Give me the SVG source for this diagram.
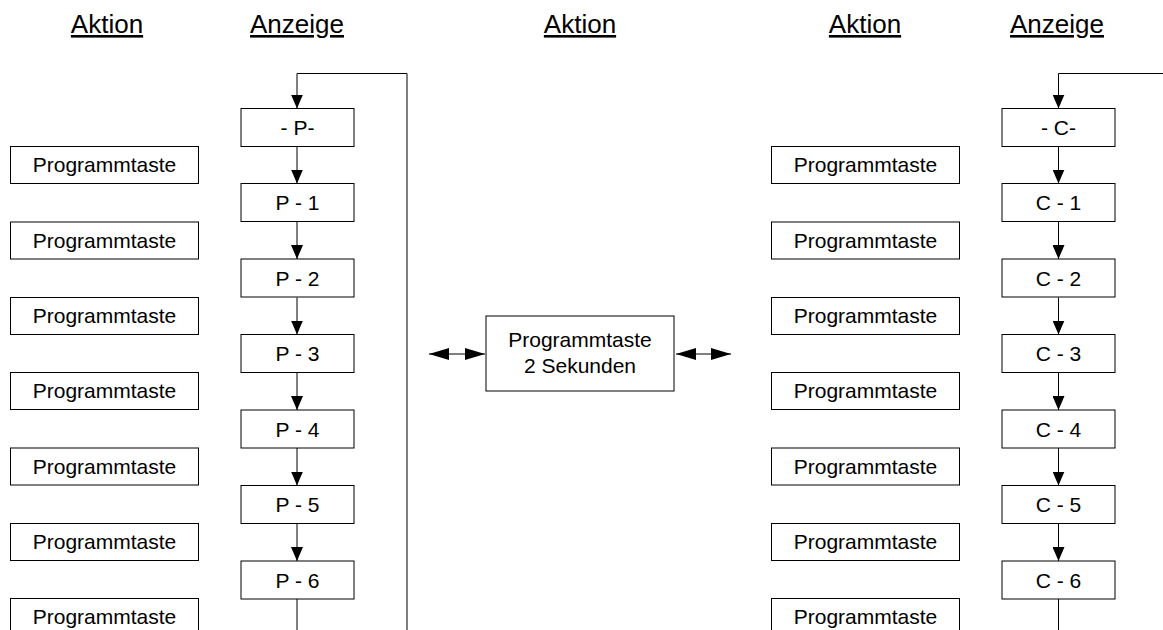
<svg xmlns="http://www.w3.org/2000/svg" width="1163" height="630" viewBox="0 0 1163 630">
<style>
.box{fill:#fff;stroke:#000;stroke-width:1}
.t{font-family:"Liberation Sans",Arial,sans-serif;font-size:21px;fill:#000;text-anchor:middle}
.h{font-family:"Liberation Sans",Arial,sans-serif;font-size:26px;fill:#000;text-anchor:middle;text-decoration:underline}
.ln{fill:none;stroke:#000;stroke-width:1}
</style>
<defs>
<marker id="ah" viewBox="0 0 14 12" refX="14" refY="6" markerWidth="14" markerHeight="12" markerUnits="userSpaceOnUse" orient="auto">
<path d="M0,0 L14,6 L0,12 Z" fill="#000"/>
</marker>
<marker id="dh" viewBox="0 0 20 12" refX="20" refY="6" markerWidth="20" markerHeight="12" markerUnits="userSpaceOnUse" orient="auto-start-reverse">
<path d="M0,0 L20,6 L0,12 Z" fill="#000"/>
</marker>
</defs>
<rect width="1163" height="630" fill="#fff"/>
<g id="headings">
<text class="h" x="107" y="33">Aktion</text>
<text class="h" x="297" y="33">Anzeige</text>
<text class="h" x="580" y="33">Aktion</text>
<text class="h" x="865" y="33">Aktion</text>
<text class="h" x="1057" y="33">Anzeige</text>
</g>
<g id="connectors">
<path class="ln" d="M407,630 V73.5 H297 V108.5" marker-end="url(#ah)"/>
<path class="ln" d="M297,146.5 V183.5" marker-end="url(#ah)"/>
<path class="ln" d="M297,222 V259" marker-end="url(#ah)"/>
<path class="ln" d="M297,297.5 V334.5" marker-end="url(#ah)"/>
<path class="ln" d="M297,372.5 V410" marker-end="url(#ah)"/>
<path class="ln" d="M297,448 V485.5" marker-end="url(#ah)"/>
<path class="ln" d="M297,523.5 V561" marker-end="url(#ah)"/>
<path class="ln" d="M297,599 V630"/>
<path class="ln" d="M1163,73.5 H1058.5 V108.5" marker-end="url(#ah)"/>
<path class="ln" d="M1058.5,146.5 V183.5" marker-end="url(#ah)"/>
<path class="ln" d="M1058.5,222 V259" marker-end="url(#ah)"/>
<path class="ln" d="M1058.5,297.5 V334.5" marker-end="url(#ah)"/>
<path class="ln" d="M1058.5,372.5 V410" marker-end="url(#ah)"/>
<path class="ln" d="M1058.5,448 V485.5" marker-end="url(#ah)"/>
<path class="ln" d="M1058.5,523.5 V561" marker-end="url(#ah)"/>
<path class="ln" d="M1058.5,599 V630"/>
<path class="ln" d="M429,354 H485" marker-start="url(#dh)" marker-end="url(#dh)"/>
<path class="ln" d="M676,354 H731" marker-start="url(#dh)" marker-end="url(#dh)"/>
</g>
<g id="p0"><rect class="box" x="241" y="108.5" width="113" height="38"/><text class="t" x="297.5" y="135">- P-</text></g>
<g id="p1"><rect class="box" x="241" y="183.5" width="113" height="38"/><text class="t" x="297.5" y="210">P - 1</text></g>
<g id="p2"><rect class="box" x="241" y="259" width="113" height="38"/><text class="t" x="297.5" y="285.5">P - 2</text></g>
<g id="p3"><rect class="box" x="241" y="334.5" width="113" height="38"/><text class="t" x="297.5" y="361">P - 3</text></g>
<g id="p4"><rect class="box" x="241" y="410" width="113" height="38"/><text class="t" x="297.5" y="436.5">P - 4</text></g>
<g id="p5"><rect class="box" x="241" y="485.5" width="113" height="38"/><text class="t" x="297.5" y="512">P - 5</text></g>
<g id="p6"><rect class="box" x="241" y="561" width="113" height="38"/><text class="t" x="297.5" y="587.5">P - 6</text></g>
<g id="c0"><rect class="box" x="1002" y="108.5" width="113" height="38"/><text class="t" x="1058.5" y="135">- C-</text></g>
<g id="c1"><rect class="box" x="1002" y="183.5" width="113" height="38"/><text class="t" x="1058.5" y="210">C - 1</text></g>
<g id="c2"><rect class="box" x="1002" y="259" width="113" height="38"/><text class="t" x="1058.5" y="285.5">C - 2</text></g>
<g id="c3"><rect class="box" x="1002" y="334.5" width="113" height="38"/><text class="t" x="1058.5" y="361">C - 3</text></g>
<g id="c4"><rect class="box" x="1002" y="410" width="113" height="38"/><text class="t" x="1058.5" y="436.5">C - 4</text></g>
<g id="c5"><rect class="box" x="1002" y="485.5" width="113" height="38"/><text class="t" x="1058.5" y="512">C - 5</text></g>
<g id="c6"><rect class="box" x="1002" y="561" width="113" height="38"/><text class="t" x="1058.5" y="587.5">C - 6</text></g>
<g id="la1"><rect class="box" x="10.5" y="146.5" width="188" height="37"/><text class="t" x="104.5" y="172">Programmtaste</text></g>
<g id="la2"><rect class="box" x="10.5" y="222" width="188" height="37"/><text class="t" x="104.5" y="247.5">Programmtaste</text></g>
<g id="la3"><rect class="box" x="10.5" y="297.5" width="188" height="37"/><text class="t" x="104.5" y="323">Programmtaste</text></g>
<g id="la4"><rect class="box" x="10.5" y="372.5" width="188" height="37"/><text class="t" x="104.5" y="398">Programmtaste</text></g>
<g id="la5"><rect class="box" x="10.5" y="448" width="188" height="37"/><text class="t" x="104.5" y="473.5">Programmtaste</text></g>
<g id="la6"><rect class="box" x="10.5" y="523.5" width="188" height="37"/><text class="t" x="104.5" y="549">Programmtaste</text></g>
<g id="la7"><rect class="box" x="10.5" y="598.5" width="188" height="37"/><text class="t" x="104.5" y="624">Programmtaste</text></g>
<g id="ra1"><rect class="box" x="771.5" y="146.5" width="188" height="37"/><text class="t" x="865.5" y="172">Programmtaste</text></g>
<g id="ra2"><rect class="box" x="771.5" y="222" width="188" height="37"/><text class="t" x="865.5" y="247.5">Programmtaste</text></g>
<g id="ra3"><rect class="box" x="771.5" y="297.5" width="188" height="37"/><text class="t" x="865.5" y="323">Programmtaste</text></g>
<g id="ra4"><rect class="box" x="771.5" y="372.5" width="188" height="37"/><text class="t" x="865.5" y="398">Programmtaste</text></g>
<g id="ra5"><rect class="box" x="771.5" y="448" width="188" height="37"/><text class="t" x="865.5" y="473.5">Programmtaste</text></g>
<g id="ra6"><rect class="box" x="771.5" y="523.5" width="188" height="37"/><text class="t" x="865.5" y="549">Programmtaste</text></g>
<g id="ra7"><rect class="box" x="771.5" y="598.5" width="188" height="37"/><text class="t" x="865.5" y="624">Programmtaste</text></g>
<g id="mid"><rect class="box" x="486" y="316" width="188" height="75"/><text class="t" x="580" y="347">Programmtaste</text><text class="t" x="580" y="373">2 Sekunden</text></g>
</svg>
